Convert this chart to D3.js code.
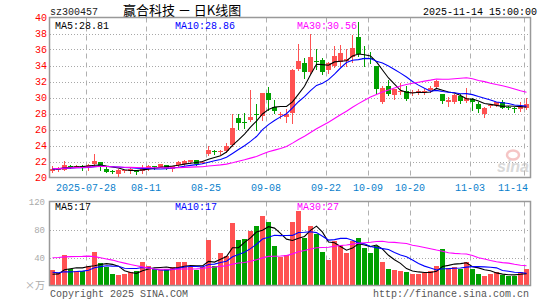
<!DOCTYPE html>
<html><head><meta charset="utf-8">
<script src="https://cdn.jsdelivr.net/npm/d3@7/dist/d3.min.js"></script>
<style>body{margin:0;background:#fff}svg{display:block}</style>
</head><body>
<script>
// ---- data ----
const dates = ["2025-07-18","2025-07-21","2025-07-22","2025-07-23","2025-07-24","2025-07-25","2025-07-28","2025-07-29","2025-07-30","2025-07-31",
"2025-08-01","2025-08-04","2025-08-05","2025-08-06","2025-08-07","2025-08-08","2025-08-11","2025-08-12","2025-08-13","2025-08-14",
"2025-08-15","2025-08-18","2025-08-19","2025-08-20","2025-08-21","2025-08-22","2025-08-25","2025-08-26","2025-08-27","2025-08-28",
"2025-08-29","2025-09-01","2025-09-02","2025-09-03","2025-09-04","2025-09-05","2025-09-08","2025-09-09","2025-09-10","2025-09-11",
"2025-09-12","2025-09-15","2025-09-16","2025-09-17","2025-09-18","2025-09-19","2025-09-22","2025-09-23","2025-09-24","2025-09-25",
"2025-09-26","2025-09-29","2025-09-30","2025-10-09","2025-10-10","2025-10-13","2025-10-14","2025-10-15","2025-10-16","2025-10-17",
"2025-10-20","2025-10-21","2025-10-22","2025-10-23","2025-10-24","2025-10-27","2025-10-28","2025-10-29","2025-10-30","2025-10-31",
"2025-11-03","2025-11-04","2025-11-05","2025-11-06","2025-11-07","2025-11-10","2025-11-11","2025-11-12","2025-11-13","2025-11-14"];
const open  = [20.85,20.95,21.0,21.5,21.4,21.45,21.3,21.7,21.9,21.1, 20.8,20.5,20.8,20.8,20.95,20.85,21.1,21.45,21.35,21.55,
 21.1,21.6,21.7,21.95,22.2,21.85,23.0,23.35,23.2,23.35, 24.1,27.5,27.0,27.2,27.9,27.7,30.6,28.8,27.8,27.55,
 28.1,33.6,34.3,33.25,34.6,34.7,33.4,34.0,34.5,34.6, 35.1,37.6,35.0,34.95,33.95,29.4,31.45,30.3,30.75,30.8,
 30.6,30.75,30.75,30.9,31.35,30.4,29.45,29.4,30.2,29.6, 29.8,29.2,28.0,28.9,29.05,29.4,28.85,28.65,28.5,28.7];
const high  = [21.5,21.3,22.05,21.6,21.55,21.6,21.7,23.0,22.0,21.3, 20.9,21.05,21.0,21.25,21.0,21.6,21.55,21.45,21.75,21.6,
 21.5,22.05,22.2,22.25,22.25,22.1,24.0,23.5,23.5,24.3, 28.0,28.0,28.05,30.9,29.2,30.6,31.35,29.7,28.2,28.6,
 33.6,36.7,34.9,38.0,36.1,35.0,34.5,36.4,36.6,36.0, 37.8,39.5,36.5,35.7,34.0,31.4,32.2,31.1,31.8,31.4,
 30.9,31.1,31.1,31.4,32.15,30.5,30.1,30.45,30.4,31.15, 30.0,29.4,28.8,29.2,29.5,29.65,29.0,28.85,29.4,29.95];
const low   = [20.7,20.85,20.95,21.2,21.3,21.0,21.0,21.6,20.95,20.7, 20.55,20.1,20.7,20.6,20.4,20.6,21.0,21.05,21.3,21.05,
 20.85,21.4,21.6,21.8,21.6,21.8,22.8,22.9,23.0,23.2, 23.9,26.05,26.2,27.1,26.0,27.2,28.45,28.1,27.4,26.9,
 26.85,33.4,32.5,33.1,33.6,33.0,33.1,33.8,33.9,33.9, 34.5,35.2,34.0,34.3,30.6,29.3,30.3,29.8,30.5,29.7,
 30.3,30.4,30.5,30.7,31.2,29.3,28.9,29.35,29.35,29.5, 28.45,28.2,27.6,28.8,28.9,28.65,28.6,28.15,28.3,28.6];
const close = [21.1,21.2,21.6,21.3,21.5,21.2,21.6,22.05,21.5,20.75, 20.7,20.95,20.9,21.1,20.75,21.05,21.45,21.4,21.65,21.2,
 21.45,21.95,22.1,22.2,21.7,22.0,23.45,23.2,23.3,24.0, 26.15,26.85,26.85,27.6,27.85,30.55,29.7,28.3,27.95,27.9,
 33.4,34.6,33.2,35.1,34.45,33.2,34.25,35.25,35.5,34.75, 36.2,35.45,34.8,34.75,31.05,31.15,30.45,31.0,30.85,29.85,
 30.7,30.85,30.85,31.15,32.1,29.6,29.7,30.3,29.6,30.0, 29.4,28.5,28.7,29.1,29.4,28.75,28.75,28.5,28.9,29.2];
const volume = [22,18,43,23,21,21,28,48,32,27, 16,15,16,19,21,34,28,24,22,24,
 26,33,33,26,22,26,65,28,46,42, 89,65,66,78,85,100,91,56,41,43,
 91,107,68,85,73,48,37,63,58,46, 63,68,54,47,57,34,24,22,21,20,
 17,17,18,21,28,52,25,27,24,34, 24,17,14,16,19,15,13,13,20,24];
// sessions before the visible window (only felt through the moving averages)
const priorCloses = [20.2,20.5,20.3,20.6,20.4,20.3,20.5,20.2,21.3,21.8,21.5,21.9,21.6,21.4,21.8,21.7,21.5,21.6,21.4,21.7,21.2,21.0,21.1,20.9,21.2,21.0,21.1,21.0,21.1];
const priorVolumes = [12,15,13,16,14,15,70,82,78,65,90,72,80,68,85,74,70,30,25,28,26,29,25,16,14,15,13,16,14];

const priceTicks = [20,22,24,26,28,30,32,34,36,38,40];
const volTicks = [40,80,120];
const dateTicks = ["2025-07-28","2025-08-11","2025-08-25","2025-09-08","2025-09-22","2025-10-09","2025-10-20","2025-11-03","2025-11-14"];
const dateTickLabels = ["2025-07-28","08-11","08-25","09-08","09-22","10-09","10-20","11-03","11-14"];
const stockCode = "sz300457";
const titleText = "赢合科技 － 日K线图";
const timeText = "2025-11-14 15:00:00";
const priceMALabels = ["MA5:28.81","MA10:28.86","MA30:30.56"];
const volMALabels = ["MA5:17","MA10:17","MA30:27"];
const maPeriods = [5,10,30];
const maColors = ["#000000","#0000ff","#ff00ff"];

// ---- drawing ----
const W = 545, H = 300;
const L = 50, R = 530;
const N = dates.length;
const mono = "'Liberation Mono', 'DejaVu Sans Mono', monospace";
const svg = d3.select("body").append("svg").attr("width", W).attr("height", H);

const x = d3.scaleLinear().domain([0, N]).range([L, R]);
const y = d3.scaleLinear().domain([20, 40]).range([177.5, 17.5]);
const yv = d3.scaleLinear().domain([0, 120]).range([285.5, 201.5]);
const cx = i => x(i) + 2.5;

function ma(vals, prior, n) {
  const full = prior.concat(vals);
  const off = prior.length;
  return vals.map((_, i) => d3.mean(full.slice(off + i - n + 1, off + i + 1)));
}
const up = i => close[i] >= open[i];
const RED = "#ff5252", GREEN = "#00a000";

// header
svg.append("text").attr("x", 50).attr("y", 15).attr("font-family", mono).attr("font-size", 10).attr("fill", "#222").text(stockCode);
svg.append("text").attr("x", 123).attr("y", 15).attr("font-family", "'Noto Sans CJK SC', sans-serif").attr("font-size", 13).attr("fill", "#000").text(titleText);
svg.append("text").attr("x", 537).attr("y", 15).attr("text-anchor", "end").attr("font-family", mono).attr("font-size", 10).attr("fill", "#000").text(timeText);

function panel(top, bottom, yscale, hTicks) {
  const g = svg.append("g");
  g.selectAll("line.h").data(hTicks).join("line")
    .attr("x1", L).attr("x2", R)
    .attr("y1", d => Math.round(yscale(d)) + 0.5).attr("y2", d => Math.round(yscale(d)) + 0.5)
    .attr("stroke", "#a8a8a8").attr("stroke-dasharray", "1,2");
  g.selectAll("line.v").data(dateTicks).join("line")
    .attr("x1", d => x(dates.indexOf(d)) + 0.5).attr("x2", d => x(dates.indexOf(d)) + 0.5)
    .attr("y1", top).attr("y2", bottom)
    .attr("stroke", "#b0b0b0").attr("stroke-dasharray", "5,4");
  return g;
}

// price panel
const pTop = y(40), pBot = y(20);
panel(pTop, pBot, y, priceTicks.filter(t => t > 20 && t < 40));
const cg = svg.append("g").attr("shape-rendering", "crispEdges");
cg.selectAll("line.w").data(d3.range(N)).join("line")
  .attr("x1", i => x(i) + 2.5).attr("x2", i => x(i) + 2.5)
  .attr("y1", i => Math.round(y(high[i]))).attr("y2", i => Math.round(y(low[i])) + 1)
  .attr("stroke", i => up(i) ? RED : GREEN).attr("stroke-width", 1);
cg.selectAll("rect.b").data(d3.range(N)).join("rect")
  .attr("x", i => x(i)).attr("width", 5)
  .attr("y", i => Math.round(y(Math.max(open[i], close[i]))))
  .attr("height", i => Math.max(1, Math.round(y(Math.min(open[i], close[i]))) - Math.round(y(Math.max(open[i], close[i])))))
  .attr("fill", i => up(i) ? RED : GREEN);
maPeriods.forEach((n, k) => {
  const vals = ma(close, priorCloses, n);
  svg.append("path").datum(vals)
    .attr("d", d3.line().x((d, i) => cx(i)).y(d => y(d)))
    .attr("fill", "none").attr("stroke", maColors[k]).attr("stroke-width", 1.1);
});

// watermark
const wm = svg.append("g").attr("opacity", 0.6);
wm.append("ellipse").attr("cx", 513).attr("cy", 155).attr("rx", 6).attr("ry", 4.5).attr("fill", "none").attr("stroke", "#f0a0a0").attr("stroke-width", 2.5);
wm.append("text").attr("x", 497).attr("y", 172).attr("font-family", "'Liberation Sans', sans-serif").attr("font-style", "italic").attr("font-weight", "bold").attr("font-size", 16).attr("fill", "#c0c0c0").text("sina");

// frame
svg.append("rect").attr("x", L - 0.5).attr("y", pTop).attr("width", R - L + 1).attr("height", pBot - pTop)
  .attr("fill", "none").attr("stroke", "#999").attr("stroke-width", 1.5);

svg.selectAll("text.p").data(priceTicks).join("text")
  .attr("x", 47).attr("y", d => y(d) + 3.5).attr("text-anchor", "end")
  .attr("font-family", mono).attr("font-size", 10).attr("fill", "#ff0000").text(d => d);
const maX = [55, 175, 297];
priceMALabels.forEach((t, k) => svg.append("text").attr("x", maX[k]).attr("y", 29)
  .attr("font-family", mono).attr("font-size", 10).attr("fill", maColors[k]).text(t));

// date labels (kept inside the frame at the right end)
svg.selectAll("text.d").data(dateTicks).join("text")
  .attr("x", d => Math.min(x(dates.indexOf(d)), R - 17)).attr("y", 191).attr("text-anchor", "middle")
  .attr("font-family", mono).attr("font-size", 10).attr("fill", "#0a7fcc").text((d, k) => dateTickLabels[k]);

// volume panel
const vTop = yv(120), vBot = yv(0);
panel(vTop, vBot, yv, volTicks.filter(t => t < 120));
const vg = svg.append("g").attr("shape-rendering", "crispEdges");
vg.selectAll("rect").data(d3.range(N)).join("rect")
  .attr("x", i => x(i)).attr("width", 5)
  .attr("y", i => Math.round(yv(volume[i]))).attr("height", i => Math.round(vBot) - Math.round(yv(volume[i])))
  .attr("fill", i => up(i) ? RED : GREEN);
maPeriods.forEach((n, k) => {
  const vals = ma(volume, priorVolumes, n);
  svg.append("path").datum(vals)
    .attr("d", d3.line().x((d, i) => cx(i)).y(d => yv(d)))
    .attr("fill", "none").attr("stroke", maColors[k]).attr("stroke-width", 1.1);
});
svg.append("rect").attr("x", L - 0.5).attr("y", vTop).attr("width", R - L + 1).attr("height", vBot - vTop)
  .attr("fill", "none").attr("stroke", "#999").attr("stroke-width", 1.5);
svg.selectAll("text.v").data(volTicks).join("text")
  .attr("x", 45).attr("y", d => yv(d) + 3).attr("text-anchor", "end")
  .attr("font-family", mono).attr("font-size", 9).attr("fill", "#aaa").text(d => d);
svg.append("text").attr("x", 45).attr("y", 289).attr("text-anchor", "end")
  .attr("font-family", "'Noto Sans CJK SC', sans-serif").attr("font-size", 10).attr("fill", "#aaa").text("×万");
volMALabels.forEach((t, k) => svg.append("text").attr("x", maX[k]).attr("y", 210)
  .attr("font-family", mono).attr("font-size", 10).attr("fill", maColors[k]).text(t));

// footer
svg.append("text").attr("x", 50).attr("y", 297).attr("font-family", mono).attr("font-size", 10).attr("fill", "#555").text("Copyright 2025 SINA.COM");
svg.append("text").attr("x", 529).attr("y", 297).attr("text-anchor", "end").attr("font-family", mono).attr("font-size", 10).attr("fill", "#555").text("http://finance.sina.com.cn");
</script>
</body></html>
